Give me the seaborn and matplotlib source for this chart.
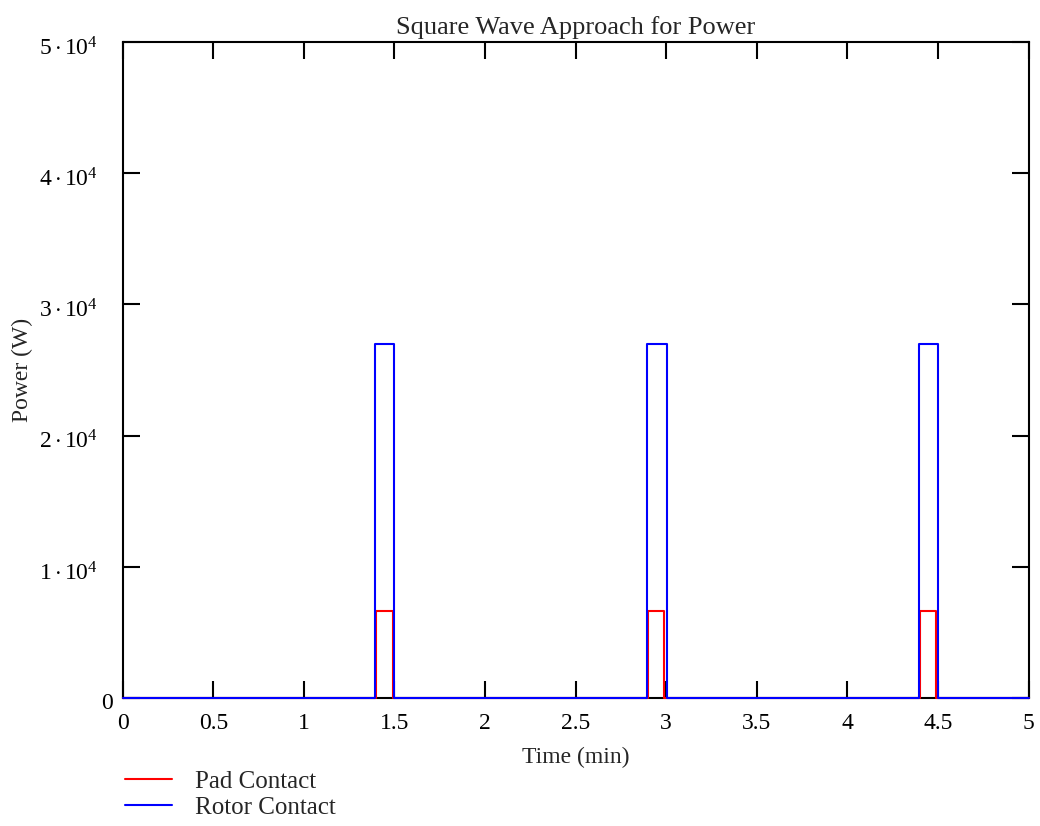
import seaborn as sns
import pandas as pd
import numpy as np
import matplotlib.pyplot as plt
from matplotlib.transforms import ScaledTranslation

# pulse timings (min) and levels (W)
pad_on = [1.40, 2.90, 4.40]
pad_off = [1.49, 2.99, 4.49]
pad_level = 6650
rotor_on = [1.395, 2.893, 4.395]
rotor_off = [1.497, 3.005, 4.502]
rotor_level = 27000
t_start, t_end = 0, 5

x_ticks = [0, 0.5, 1, 1.5, 2, 2.5, 3, 3.5, 4, 4.5, 5]
x_labels = ['0', '0.5', '1', '1.5', '2', '2.5', '3', '3.5', '4', '4.5', '5']
y_ticks = [0, 10000, 20000, 30000, 40000, 50000]
y_labels = ['0', r'$1\cdot10^4$', r'$2\cdot10^4$', r'$3\cdot10^4$', r'$4\cdot10^4$', r'$5\cdot10^4$']


def square_wave(on, off, level, name):
    t, p = [t_start], [0]
    for a, b in zip(on, off):
        t += [a, a, b, b]
        p += [0, level, level, 0]
    t.append(t_end)
    p.append(0)
    return pd.DataFrame({'t': t, 'p': p, 'series': name})


df = pd.concat([
    square_wave(pad_on, pad_off, pad_level, 'Pad Contact'),
    square_wave(rotor_on, rotor_off, rotor_level, 'Rotor Contact'),
], ignore_index=True)

sns.set_style('ticks')
plt.rcParams['font.family'] = ['Liberation Serif', 'DejaVu Serif']
plt.rcParams['mathtext.fontset'] = 'custom'
plt.rcParams['mathtext.rm'] = 'Liberation Serif'
plt.rcParams['mathtext.it'] = 'Liberation Serif:italic'

fig = plt.figure(figsize=(10.4, 8.26), dpi=100)
ax = fig.add_axes([0.118, 0.155, 0.871, 0.794])

sns.lineplot(data=df, x='t', y='p', hue='series', palette=['#ff0000', '#0000ff'],
             sort=False, estimator=None, units='series', linewidth=1.5, ax=ax)
for ln in ax.lines:
    ln.set_clip_on(False)
    ln.set_zorder(3)

ax.set_xlim(0, 5)
ax.set_ylim(0, 50000)
ax.set_xticks(x_ticks)
ax.set_xticklabels(x_labels)
ax.set_yticks(y_ticks)
ax.set_yticklabels(y_labels)
ax.tick_params(direction='in', length=12, width=1.5, top=True, right=True,
               labelsize=17, colors='black')
ax.tick_params(axis='x', pad=11)
ax.tick_params(axis='y', pad=18)
for s in ax.spines.values():
    s.set_linewidth(1.5)
    s.set_color('black')

# gnuplot-style: the plain "0" sits closer to the axis than the 10^n labels
zero_lbl = ax.yaxis.get_major_ticks()[0].label1
zero_lbl.set_transform(zero_lbl.get_transform() + ScaledTranslation(11 / 72, -2 / 72, fig.dpi_scale_trans))
for t in ax.yaxis.get_major_ticks()[1:]:
    t.label1.set_transform(t.label1.get_transform() + ScaledTranslation(0, -3 / 72, fig.dpi_scale_trans))

ax.set_title('Square Wave Approach for Power', fontsize=19, pad=6)
ax.set_xlabel('Time (min)', fontsize=17, labelpad=9)
ax.set_ylabel('Power (W)', fontsize=17, labelpad=4)

ax.legend(loc='upper left', bbox_to_anchor=(-0.009, -0.095), frameon=False,
          fontsize=18, handlelength=1.9, handletextpad=0.9, labelspacing=0.15,
          borderaxespad=0)

plt.savefig('out.png', dpi=100)
